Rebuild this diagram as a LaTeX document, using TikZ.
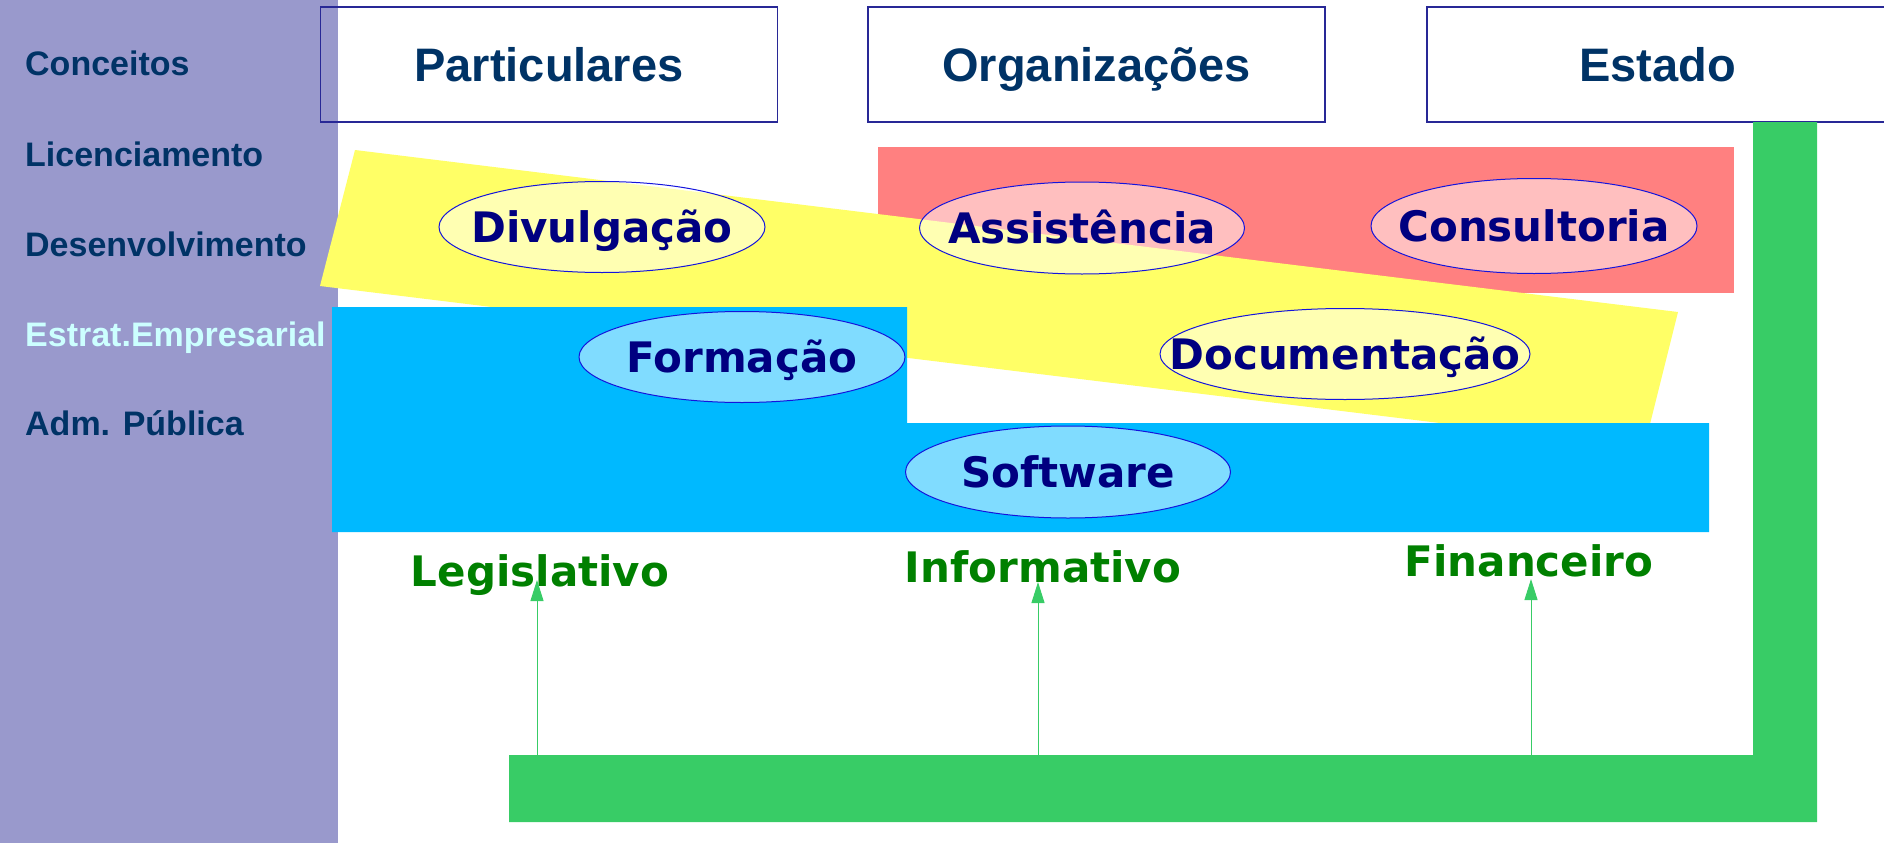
\documentclass[tikz,border=0pt]{standalone}
\usepackage{fontspec}
\setmainfont{Liberation Sans}
\newfontfamily\dejavu{DejaVu Sans}
\usetikzlibrary{shapes.geometric,arrows.meta}
\definecolor{panel}{RGB}{153,153,204}
\definecolor{redbg}{RGB}{255,128,128}
\definecolor{yellowbg}{RGB}{255,255,102}
\definecolor{bluebg}{RGB}{0,185,255}
\definecolor{greenbar}{RGB}{56,204,102}
\definecolor{darkblue}{RGB}{0,51,102}
\definecolor{lightcyan}{RGB}{204,255,255}
\definecolor{boxline}{RGB}{40,40,150}
\definecolor{ellline}{RGB}{20,20,220}
\definecolor{elltext}{RGB}{0,0,128}
\definecolor{labgreen}{RGB}{0,128,0}
\tikzset{
  topbox/.style={draw=boxline, line width=1.2pt, rectangle, inner sep=0pt,
    minimum width=457pt, minimum height=115pt, text height=33.7pt, text depth=0pt,
    text=darkblue, font=\bfseries\fontsize{47}{56}\selectfont},
  sidelab/.style={anchor=base west, inner sep=0pt, text=darkblue,
    font=\bfseries\fontsize{34}{40}\selectfont},
  ellbox/.style={ellipse, draw=ellline, line width=1pt, fill=white, fill opacity=0.5,
    inner sep=0pt},
  elltxt/.style={inner sep=0pt, text height=30.6pt, text depth=0pt, text=elltext,
    font=\dejavu\bfseries\fontsize{42}{50}\selectfont},
  botlab/.style={anchor=base, inner sep=0pt, text=labgreen,
    font=\dejavu\bfseries\fontsize{42}{50}\selectfont},
  uparrow/.style={draw=greenbar, line width=1pt, -{Triangle[length=21pt,width=13pt]}}
}
\begin{document}
\begin{tikzpicture}[x=1pt,y=-1pt]
\useasboundingbox (0,0) rectangle (1884,843);
% left panel
\fill[panel] (0,0) rectangle (338,843);
% top boxes
\node[topbox] (part) at (549,64.5) {Particulares};
\node[topbox] (org) at (1096.5,64.5) {Organizações};
\node[topbox, minimum width=461pt] (est) at (1657.5,64.5) {Estado};
% green L bar
\fill[greenbar] (509,755) -- (1753,755) -- (1753,122) -- (1817,122) -- (1817,822) -- (509,822) -- cycle;
% coloured areas
\fill[redbg] (878,147) rectangle (1734,293);
\fill[yellowbg] (355,150) -- (1678,312) -- (1644,448) -- (320,286) -- cycle;
\fill[bluebg] (332,307) -- (907,307) -- (907,423) -- (1709,423) -- (1709,532) -- (332,532) -- cycle;
% ellipses
\node[ellbox, minimum width=326pt, minimum height=91pt] (div) at (602,227) {};
\node[ellbox, minimum width=325pt, minimum height=92pt] (asi) at (1082,228) {};
\node[ellbox, minimum width=326pt, minimum height=95pt] (con) at (1534,226) {};
\node[ellbox, minimum width=370pt, minimum height=91pt] (doc) at (1345,354) {};
\node[ellbox, minimum width=326pt, minimum height=91pt] (for) at (742,357) {};
\node[ellbox, minimum width=325pt, minimum height=92pt] (sof) at (1068,472) {};
\node[elltxt] (divt) at (div.center) {Divulgação};
\node[elltxt] (asit) at (asi.center) {Assistência};
\node[elltxt] (cont) at (con.center) {Consultoria};
\node[elltxt] (doct) at (doc.center) {Documentação};
\node[elltxt] (fort) at (for.center) {Formação};
\node[elltxt] (soft) at (sof.center) {Software};
% bottom labels
\node[botlab] (leg) at (540,586) {Legislativo};
\node[botlab] (inf) at (1043,582) {Informativo};
\node[botlab] (fin) at (1529,576) {Financeiro};
% arrows
\coordinate (a1) at (537,755);
\coordinate (a2) at (1038,755);
\coordinate (a3) at (1531,755);
\draw[uparrow] (a1) -- ([yshift=6pt]a1 |- leg.base);
\draw[uparrow] (a2) -- (a2 |- inf.base);
\draw[uparrow] (a3) -- ([yshift=-3pt]a3 |- fin.base);
% side labels
\node[sidelab] (l1) at (25,76) {Conceitos};
\node[sidelab] (l2) at (25,166) {Licenciamento};
\node[sidelab] (l3) at (25,256) {Desenvolvimento};
\node[sidelab, text=lightcyan] (l4) at (25,346) {Estrat.Empresarial};
\node[sidelab] (l5) at (25,435) {Adm. Pública};
\end{tikzpicture}
\end{document}
